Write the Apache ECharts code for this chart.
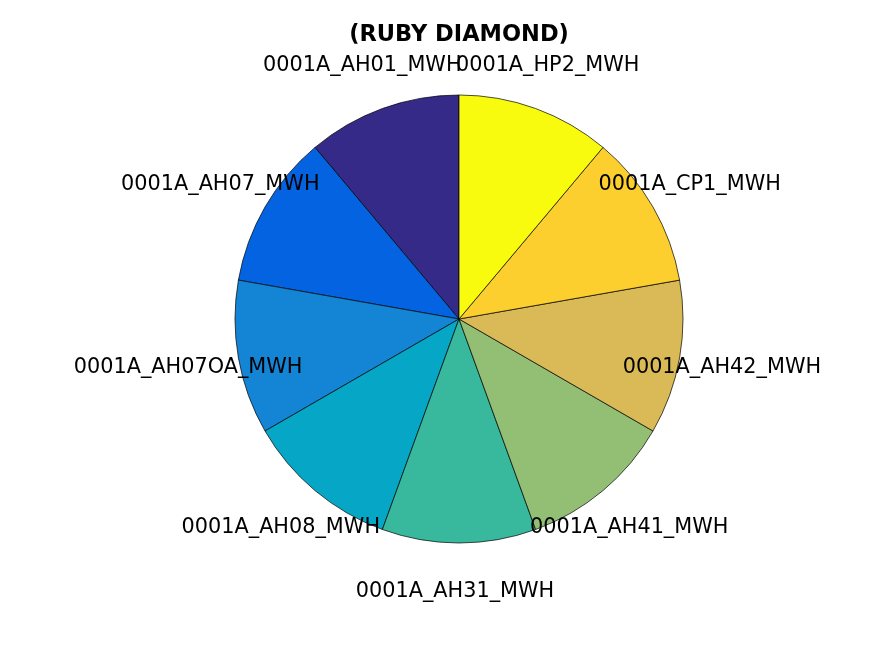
<!DOCTYPE html>
<html>
<head>
<meta charset="utf-8">
<script src="https://cdn.jsdelivr.net/npm/echarts@6/dist/echarts.min.js"></script>
<style>html,body{margin:0;padding:0;background:#fff}#c{width:887px;height:661px}</style>
</head>
<body>
<div id="c"></div>
<script>
const titleText = '(RUBY DIAMOND)';
const categories = ['0001A_AH01_MWH','0001A_AH07_MWH','0001A_AH07OA_MWH','0001A_AH08_MWH','0001A_AH31_MWH','0001A_AH41_MWH','0001A_AH42_MWH','0001A_CP1_MWH','0001A_HP2_MWH'];
const values = [1,1,1,1,1,1,1,1,1];
const colors = ['#352A87','#0363E1','#1485D4','#06A7C6','#38B99E','#92BF73','#D9BA56','#FCCE2E','#F9FB0E'];

const R = 224;
const LR = 268;
const font = 'DejaVu Sans';
const chart = echarts.init(document.getElementById('c'));
chart.setOption({
  animation: false,
  backgroundColor: '#fff',
  title: {
    text: titleText, left: 454, top: 19, textAlign: 'center',
    textStyle: {fontFamily: font, fontWeight: 'bold', fontSize: 22.5, color: '#000'}
  },
  series: [
    {
      type: 'pie', center: [459, 319], radius: [0, R],
      startAngle: 90, clockwise: false, silent: true,
      label: {show: false}, labelLine: {show: false},
      itemStyle: {borderColor: '#000', borderWidth: 0.7},
      emphasis: {disabled: true},
      data: categories.map((n, i) => ({name: n, value: values[i], itemStyle: {color: colors[i]}}))
    },
    {
      type: 'pie', center: [455, 320.5], radius: [LR - 6, LR + 6],
      startAngle: 90, clockwise: false, silent: true,
      avoidLabelOverlap: false,
      labelLayout: {hideOverlap: false},
      label: {show: true, position: 'inside', formatter: '{b}', fontFamily: font, fontSize: 20.8, color: '#000'},
      labelLine: {show: false},
      itemStyle: {color: 'rgba(0,0,0,0)', borderWidth: 0},
      emphasis: {disabled: true},
      data: categories.map((n, i) => ({name: n, value: values[i]}))
    }
  ]
});
</script>
</body>
</html>
